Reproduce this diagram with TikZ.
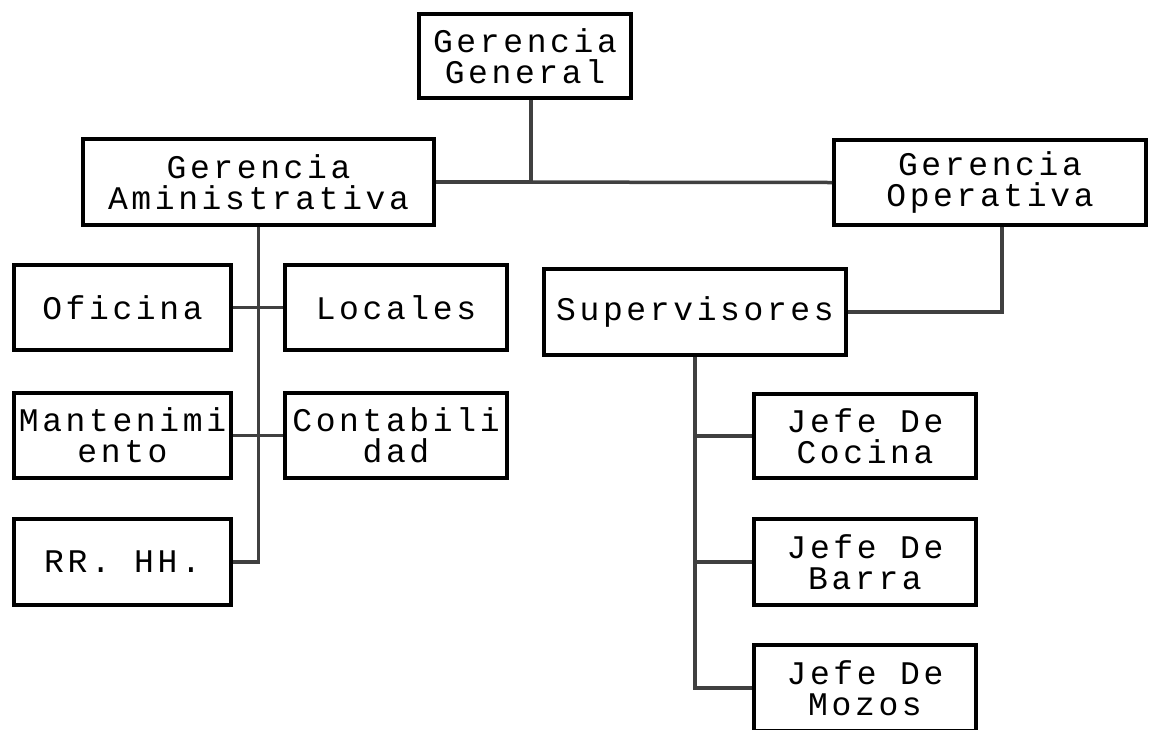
\documentclass[tikz,border=0pt]{standalone}
\usepackage{fontspec}
\newfontfamily\boxfont[LetterSpace=11]{Liberation Mono}
\begin{document}
\begin{tikzpicture}[x=1pt,y=-1pt,
  box/.style={draw=black, line width=4pt, fill=white, inner sep=0pt, align=center,
    font=\boxfont\fontsize{33}{31}\selectfont},
  link/.style={draw=black!75, line width=3.5pt}]
\useasboundingbox (0,0) rectangle (1160,729);
\clip (0,0) rectangle (1160,729);
\fill[white] (0,0) rectangle (1160,729);

\node[box, minimum width=212pt, minimum height=84pt] (gg) at (525,56) {Gerencia\\General};
\node[box, minimum width=351pt, minimum height=86pt] (ga) at (258.5,182) {Gerencia\\Aministrativa};
\node[box, minimum width=312pt, minimum height=85pt] (go) at (990,182.5) {Gerencia\\Operativa};

\node[box, minimum width=217pt, minimum height=85pt] (of) at (122.5,307.5) {Oficina};
\node[box, minimum width=222pt, minimum height=85pt] (lo) at (396,307.5) {Locales};
\node[box, minimum width=217pt, minimum height=85pt] (ma) at (122.5,435.5) {Mantenimi\\ento};
\node[box, minimum width=222pt, minimum height=85pt] (co) at (396,435.5) {Contabili\\dad};
\node[box, minimum width=217pt, minimum height=86pt] (rr) at (122.5,562) {RR. HH.};

\node[box, minimum width=302pt, minimum height=86pt] (sp) at (695,312) {Supervisores};
\node[box, minimum width=222pt, minimum height=84pt] (jc) at (865,436) {Jefe De\\Cocina};
\node[box, minimum width=222pt, minimum height=86pt] (jb) at (865,562) {Jefe De\\Barra};
\node[box, minimum width=222pt, minimum height=86pt] (jm) at (865,688) {Jefe De\\Mozos};

\draw[link] ([xshift=6pt]gg.south) |- (ga.east);
\draw[link] (ga.east) -- (go.west);
\draw[link] (ga.south) |- (rr.east);
\draw[link] (of.east) -- (lo.west);
\draw[link] (ma.east) -- (co.west);
\draw[link] ([xshift=12pt]go.south) |- (sp.east);
\draw[link] (sp.south) |- (jm.west);
\draw[link] (sp.south |- jc.west) -- (jc.west);
\draw[link] (sp.south |- jb.west) -- (jb.west);
\end{tikzpicture}
\end{document}
